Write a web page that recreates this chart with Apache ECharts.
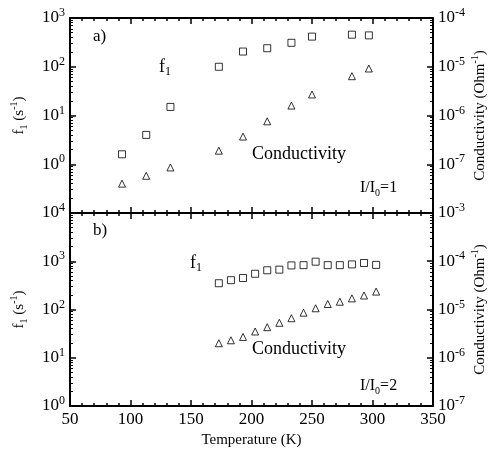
<!DOCTYPE html>
<html>
<head>
<meta charset="UTF-8">
<script src="https://cdn.jsdelivr.net/npm/echarts@6/dist/echarts.min.js"></script>
<style>
    html, body { margin: 0; padding: 0; background: #fff; }
    #chart { width: 488px; height: 450px; }
</style>
</head>
<body>
<div id="chart"></div>
<script>
    // panel a) I/I0=1
    const topTemp = [93, 113, 133, 173, 193, 213, 233, 250, 283, 297];
    const topF1 = [1.6, 4.0, 15, 100, 205, 240, 310, 415, 455, 440];
    const topCond = [4.0e-8, 5.8e-8, 8.6e-8, 1.9e-7, 3.7e-7, 7.6e-7, 1.6e-6, 2.7e-6, 6.4e-6, 9.2e-6];
    // panel b) I/I0=2
    const botTemp = [173, 183, 193, 203, 213, 223, 233, 243, 253, 263, 273, 283, 293, 303];
    const botF1 = [350, 405, 450, 550, 650, 670, 820, 830, 980, 830, 830, 860, 920, 840];
    const botCond = [2.0e-6, 2.3e-6, 2.7e-6, 3.5e-6, 4.3e-6, 5.3e-6, 6.6e-6, 8.6e-6, 1.06e-5, 1.3e-5, 1.45e-5, 1.7e-5, 1.95e-5, 2.35e-5];

    const serif = '"Liberation Serif", "DejaVu Serif", serif';

    function pairs(xs, ys) {
        return xs.map(function (x, i) { return [x, ys[i]]; });
    }

    let rich = {
        b: { fontFamily: serif, fontSize: 17, color: '#000', lineHeight: 22 },
        s: { fontFamily: serif, fontSize: 12, color: '#000', verticalAlign: 'top', lineHeight: 12 }
    };
    let nameRich = {
        b: { fontFamily: serif, fontSize: 15, color: '#000', lineHeight: 20 },
        s: { fontFamily: serif, fontSize: 10, color: '#000', verticalAlign: 'top', lineHeight: 10 },
        u: { fontFamily: serif, fontSize: 10, color: '#000', verticalAlign: 'bottom', lineHeight: 10 }
    };

    function expLabel(hide) {
        return function (v) {
            let n = Math.round(Math.log10(v));
            if (n === hide) return '';
            return '{b|10}{s|' + n + '}';
        };
    }

    let line = { lineStyle: { color: '#000', width: 2 } };
    let tick = { inside: true, length: 6, lineStyle: { color: '#000', width: 1.5 } };
    let minorX = { show: true, splitNumber: 5, length: 3, lineStyle: { color: '#000', width: 1.5 } };
    let minorY = { show: true, splitNumber: 9, length: 3, lineStyle: { color: '#000', width: 1 } };

    function xAxis(grid, pos, labels) {
        return {
            type: 'value', gridIndex: grid, position: pos, min: 50, max: 350, interval: 50,
            axisLine: line, axisTick: tick, minorTick: minorX, splitLine: { show: false },
            axisLabel: {
                show: labels, color: '#000', fontFamily: serif, fontSize: 17, margin: 5
            },
            name: labels ? 'Temperature (K)' : '', nameLocation: 'middle', nameGap: 27,
            nameTextStyle: { color: '#000', fontFamily: serif, fontSize: 15 }
        };
    }

    function yAxis(grid, pos, min, max, hide, name) {
        let ax = {
            type: 'log', logBase: 10, gridIndex: grid, position: pos, min: min, max: max,
            axisLine: line, axisTick: tick, minorTick: minorY, splitLine: { show: false },
            axisLabel: { formatter: expLabel(hide), rich: rich, margin: 5 },
            name: name, nameLocation: 'middle', nameRotate: 90,
            nameGap: 41,
            nameTextStyle: { rich: nameRich }
        };
        if (pos === 'right') {
            ax.nameMoveOverlap = false;
            ax.nameGap = 47;
            ax.nameTextStyle.verticalAlign = 'middle';
        }
        return ax;
    }

    let sq = { color: 'transparent', borderColor: '#000', borderWidth: 1 };

    function text(str, x, y, size) {
        return {
            type: 'text', left: x, top: y,
            style: {
                text: str, fill: '#000', font: size + 'px ' + serif,
                rich: {
                    b: { fontFamily: serif, fontSize: size, fill: '#000', lineHeight: size + 4 },
                    u: { fontFamily: serif, fontSize: Math.round(size * 0.65), fill: '#000', verticalAlign: 'bottom', lineHeight: 10 }
                }
            }
        };
    }

    let chart = echarts.init(document.getElementById('chart'));
    chart.setOption({
        animation: false,
        backgroundColor: '#fff',
        grid: [
            { left: 70, right: 55, top: 18, height: 195, outerBoundsMode: 'none' },
            { left: 70, right: 55, top: 213, height: 193, outerBoundsMode: 'none' }
        ],
        xAxis: [
            xAxis(0, 'bottom', false),
            xAxis(0, 'top', false),
            xAxis(1, 'bottom', true),
            xAxis(1, 'top', false)
        ],
        yAxis: [
            yAxis(0, 'left', 0.1, 1000, -1, '{b|f}{u|1}{b| (s}{s|-1}{b|)}'),
            yAxis(0, 'right', 1e-8, 1e-4, -8, '{b|Conductivity (Ohm}{s|-1}{b|)}'),
            yAxis(1, 'left', 1, 10000, null, '{b|f}{u|1}{b| (s}{s|-1}{b|)}'),
            yAxis(1, 'right', 1e-7, 1e-3, null, '{b|Conductivity (Ohm}{s|-1}{b|)}')
        ],
        series: [
            { type: 'scatter', xAxisIndex: 0, yAxisIndex: 0, symbol: 'rect', symbolSize: 7, itemStyle: sq, data: pairs(topTemp, topF1) },
            { type: 'scatter', xAxisIndex: 0, yAxisIndex: 1, symbol: 'triangle', symbolSize: 7, itemStyle: sq, data: pairs(topTemp, topCond) },
            { type: 'scatter', xAxisIndex: 2, yAxisIndex: 2, symbol: 'rect', symbolSize: 7, itemStyle: sq, data: pairs(botTemp, botF1) },
            { type: 'scatter', xAxisIndex: 2, yAxisIndex: 3, symbol: 'triangle', symbolSize: 7, itemStyle: sq, data: pairs(botTemp, botCond) }
        ],
        graphic: [
            text('{b|a)}', 93, 28, 17),
            text('{b|f}{u|1}', 159, 58, 18),
            text('{b|Conductivity}', 252, 145, 18),
            text('{b|I/I}{u|0}{b|=1}', 360, 180, 16),
            text('{b|b)}', 93, 222, 17),
            text('{b|f}{u|1}', 190, 254, 18),
            text('{b|Conductivity}', 252, 340, 18),
            text('{b|I/I}{u|0}{b|=2}', 360, 378, 16)
        ]
    });
</script>
</body>
</html>
